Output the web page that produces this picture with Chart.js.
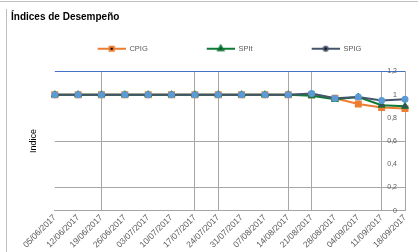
<!DOCTYPE html>
<html>
<head>
<meta charset="utf-8">
<script src="https://cdn.jsdelivr.net/npm/chart.js@4.4.1/dist/chart.umd.min.js"></script>
<style>
    body { margin: 0; background: #fff; }
    #marco { position: relative; width: 418px; height: 252px; overflow: hidden; }
    #marco canvas { position: absolute; left: 0; top: 0; }
    .bordeSup { position: absolute; left: 0; top: 1px; width: 418px; height: 1px; background: #bfbfbf; }
    .bordeIzq { position: absolute; left: 6px; top: 9px; width: 1px; height: 243px; background: #bfbfbf; }
</style>
</head>
<body>
<div id="marco">
    <canvas id="grafica" width="418" height="252"></canvas>
    <div class="bordeSup"></div>
    <div class="bordeIzq"></div>
</div>
<script type="text/javascript">

    // Fechas (semanas)
    var fechas = ["05/06/2017", "12/06/2017", "19/06/2017", "26/06/2017", "03/07/2017", "10/07/2017",
                  "17/07/2017", "24/07/2017", "31/07/2017", "07/08/2017", "14/08/2017", "21/08/2017",
                  "28/08/2017", "04/09/2017", "11/09/2017", "18/09/2017"]
    // Indices
    var valoresCPIG = [1, 1, 1, 1, 1, 1, 1, 1, 1, 1, 1, 1, 0.97, 0.92, 0.89, 0.88]
    var valoresSPIt = [1, 1, 1, 1, 1, 1, 1, 1, 1, 1, 1, 0.99, 0.96, 0.98, 0.91, 0.90]
    var valoresSPIG = [1, 1, 1, 1, 1, 1, 1, 1, 1, 1, 1, 1.01, 0.97, 0.98, 0.95, 0.96]
    // Eje vertical
    var marcasY = [0, 0.2, 0.4, 0.6, 0.8, 1, 1.2]
    var etiquetasY = ["0", "0,2", "0,4", "0,6", "0,8", "1", "1,2"]

    var gris = "#a6a6a6"
    var lineasX = [2, 6, 7, 10, 11, 14, 15]
    var lineasY = [0, 0.2, 0.6]
    var anchoCaja = 71

    function icono(colorLinea, estilo, relleno, borde, radio) {
        var c = document.createElement("canvas")
        c.width = anchoCaja
        c.height = 10
        var ctx = c.getContext("2d")
        ctx.strokeStyle = colorLinea
        ctx.lineWidth = 2
        ctx.beginPath()
        ctx.moveTo(anchoCaja - 28, 5)
        ctx.lineTo(anchoCaja, 5)
        ctx.stroke()
        Chart.helpers.drawPoint(ctx, {
            pointStyle: estilo, radius: radio, borderWidth: 1,
            backgroundColor: relleno, borderColor: borde
        }, anchoCaja - 14, 5)
        return c
    }

    var iconos = [
        icono("#ed7d31", "rect", "#ed7d31", "#ed7d31", 3),
        icono("#0e7a36", "triangle", "#3c4b5e", "#0e7a36", 3),
        icono("#44546a", "circle", "#5b9bd5", "#5b9bd5", 2)
    ]

    var canvas = document.getElementById("grafica")
    var context = canvas.getContext("2d")

    var datos = {
        labels: fechas,
        datasets: [{
            label: "CPIG",
            data: valoresCPIG,
            borderColor: "#ed7d31",
            backgroundColor: "#ed7d31",
            pointStyle: "rect",
            pointRadius: 3.5,
            borderWidth: 2,
            order: 2
        }, {
            label: "SPIt",
            data: valoresSPIt,
            borderColor: "#0e7a36",
            backgroundColor: "#3c4b5e",
            pointBorderColor: "#0e7a36",
            pointBorderWidth: 1,
            pointStyle: "triangle",
            pointRadius: 4,
            borderWidth: 2,
            order: 1
        }, {
            label: "SPIG",
            data: valoresSPIG,
            borderColor: "#44546a",
            backgroundColor: "#5b9bd5",
            pointBorderColor: "#5b9bd5",
            pointStyle: "circle",
            pointRadius: 2.5,
            borderWidth: 2,
            order: 0
        }]
    }

    window.linea = new Chart(context, {
        type: "line",
        data: datos,
        options: {
            responsive: false,
            animation: false,
            layout: { padding: { left: 11, right: 13, top: 0, bottom: 0 } },
            plugins: {
                title: {
                    display: true,
                    text: "Índices de Desempeño",
                    align: "start",
                    color: "#000",
                    font: { family: "Liberation Sans", size: 10, weight: "bold" },
                    padding: { top: 11, bottom: 6 }
                },
                legend: {
                    display: true,
                    labels: {
                        usePointStyle: true,
                        pointStyleWidth: anchoCaja,
                        padding: 16,
                        color: "#595959",
                        font: { family: "Liberation Sans", size: 7.5 },
                        generateLabels: function(chart) {
                            return chart.data.datasets.map(function(ds, i) {
                                return {
                                    text: ds.label, pointStyle: iconos[i], fontColor: "#595959",
                                    datasetIndex: i, hidden: false, lineWidth: 0,
                                    strokeStyle: "transparent", fillStyle: "transparent"
                                }
                            })
                        }
                    }
                },
                tooltip: { enabled: false }
            },
            scales: {
                x: {
                    offset: false,
                    grid: {
                        drawTicks: false,
                        color: function(c) { return lineasX.indexOf(c.index) >= 0 ? gris : "transparent" }
                    },
                    border: { color: gris },
                    ticks: {
                        autoSkip: false,
                        minRotation: 45,
                        maxRotation: 45,
                        padding: 2,
                        color: "#595959",
                        font: { family: "Liberation Sans", size: 8.5 }
                    }
                },
                // separa la leyenda del area de trazado
                xt: {
                    type: "category",
                    position: "top",
                    grid: { display: false },
                    border: { display: false },
                    ticks: { display: false },
                    title: { display: true, text: "", font: { size: 1, lineHeight: 1 }, padding: 0 }
                },
                y: {
                    position: "right",
                    min: 0,
                    max: 1.2,
                    afterBuildTicks: function(eje) {
                        eje.ticks = marcasY.map(function(v) { return { value: v } })
                    },
                    afterFit: function(eje) {
                        eje.width = 0
                    },
                    grid: {
                        drawTicks: false,
                        color: function(c) {
                            if (c.tick && c.tick.value === 1.2) return "#4472c4"
                            return c.tick && lineasY.indexOf(c.tick.value) >= 0 ? gris : "transparent"
                        }
                    },
                    border: { color: gris },
                    ticks: {
                        mirror: true,
                        padding: -8,
                        color: "#595959",
                        font: { family: "Liberation Sans", size: 7 },
                        callback: function(v, i) { return etiquetasY[i] }
                    }
                },
                yl: {
                    position: "left",
                    min: 0,
                    max: 1,
                    grid: { display: false },
                    border: { display: false },
                    ticks: { display: false },
                    title: {
                        display: true,
                        text: "Indice",
                        color: "#000",
                        font: { family: "Liberation Sans", size: 9 },
                        padding: { top: 17, bottom: 8 }
                    }
                }
            }
        }
    })

</script>
</body>
</html>
